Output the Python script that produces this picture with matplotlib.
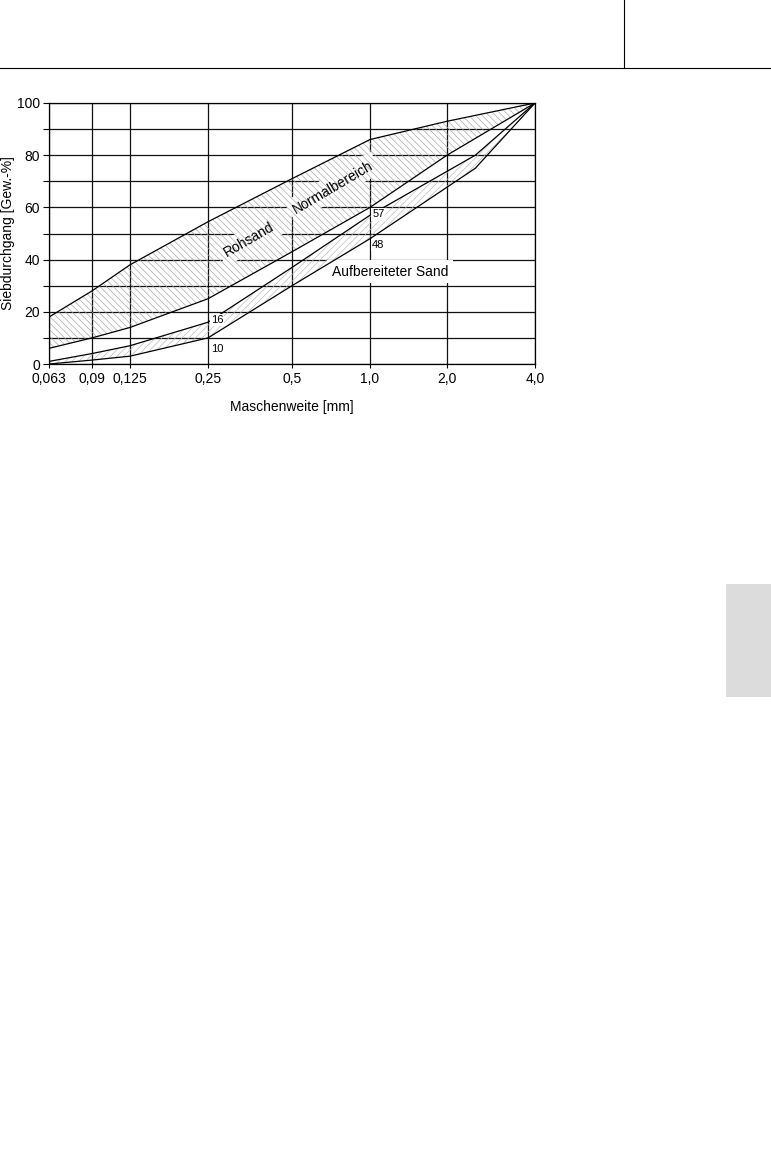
import matplotlib
matplotlib.use('Agg')
import numpy as np
import matplotlib.pyplot as plt
from matplotlib.lines import Line2D
from matplotlib.patches import Rectangle
from matplotlib.ticker import NullLocator

plt.rcParams['font.family'] = ['Liberation Sans', 'DejaVu Sans']
plt.rcParams['hatch.linewidth'] = 0.45

# Siebweiten [mm]
sieve = [0.063, 0.09, 0.125, 0.25, 0.5, 1.0, 2.0, 4.0]
sieve_labels = ['0,063', '0,09', '0,125', '0,25', '0,5', '1,0', '2,0', '4,0']

# Rohsand / Normalbereich (Grenzlinien)
roh_oben = [18, 28, 38, 54.5, 71, 86, 93, 100]
roh_unten = [6, 10, 14, 25, 43, 60, 80, 100]

# Aufbereiteter Sand (Grenzlinien)
auf_sieve = [0.063, 0.09, 0.125, 0.25, 0.5, 1.0, 2.5, 4.0]
auf_oben = [1, 4, 7, 16, 37, 57, 80, 100]
auf_unten = [0, 1.5, 3, 10, 30, 48, 75, 100]

# Abstand der Siebe auf der Achse wie im Original (nicht ganz logarithmisch)
achse_pos = [0, 43, 81, 159, 243, 321, 398, 486]
log_sieve = np.log(sieve)


def vorwaerts(x):
    x = np.clip(np.asarray(x, dtype=float), 1e-6, None)
    return np.interp(np.log(x), log_sieve, achse_pos)


def rueckwaerts(p):
    return np.exp(np.interp(p, achse_pos, log_sieve))


W, H = 771, 1151
fig = plt.figure(figsize=(W / 100, H / 100), dpi=100)

# Seitenkopf und Registermarke
fig.add_artist(Line2D([0, 1], [1 - 68 / H] * 2, transform=fig.transFigure, color='k', lw=0.8))
fig.add_artist(Line2D([624 / W] * 2, [1 - 68 / H, 1], transform=fig.transFigure, color='k', lw=0.8))
fig.add_artist(Rectangle((726 / W, 1 - 697 / H), 45 / W, 113 / H, transform=fig.transFigure,
                         facecolor='#dcdcdc', edgecolor='none'))

ax = fig.add_axes([49 / W, 1 - 364 / H, (535 - 49) / W, (364 - 103) / H])
ax.set_xscale('function', functions=(vorwaerts, rueckwaerts))
ax.set_xlim(0.063, 4.0)
ax.set_ylim(0, 100)

ax.set_xticks(sieve)
ax.set_xticklabels(sieve_labels)
ax.xaxis.set_minor_locator(NullLocator())
ax.set_yticks(range(0, 101, 10))
ax.set_yticklabels([str(v) if v % 20 == 0 else '' for v in range(0, 101, 10)])
ax.yaxis.set_minor_locator(NullLocator())
ax.tick_params(axis='x', direction='out', length=3, width=0.8, pad=3, labelsize=10)
ax.tick_params(axis='y', direction='out', length=4.5, width=0.8, pad=2, labelsize=10)

ax.set_axisbelow(True)
ax.grid(True, color='#111111', lw=0.9)
for s in ax.spines.values():
    s.set_linewidth(0.9)

ax.set_xlabel('Maschenweite [mm]', fontsize=10, labelpad=10)
ax.set_ylabel('Siebdurchgang [Gew.-%]', fontsize=10)
ax.yaxis.set_label_coords(-41 / 486, 0.5)
ax.yaxis.label.set_va('center')

# Schraffierte Bereiche
ax.fill_between(sieve, roh_unten, roh_oben, facecolor='none', edgecolor='#a2a2a2',
                hatch='\\\\\\\\\\', lw=0, zorder=1.5)
ax.fill_between(auf_sieve, auf_unten, auf_oben, facecolor='none', edgecolor='#b8b8b8',
                hatch='/////', lw=0, zorder=1.5)

for yv in (roh_oben, roh_unten):
    ax.plot(sieve, yv, color='k', lw=0.9, zorder=2)
for yv in (auf_oben, auf_unten):
    ax.plot(auf_sieve, yv, color='k', lw=0.9, zorder=2)


def label(x, y, s, rot=0, size=10, ha='center', mask=True):
    box = dict(boxstyle='square,pad=0.35', facecolor='white', edgecolor='none')
    if mask:
        # weisse Flaeche nur unter der Schraffur, damit das Gitter ausgespart wird
        ax.text(x, y, s, rotation=rot, fontsize=size, ha=ha, va='center', color='none',
                rotation_mode='anchor', bbox=box, zorder=1)
    ax.text(x, y, s, rotation=rot, fontsize=size, ha=ha, va='center', color='k',
            rotation_mode='anchor', zorder=3)


label(0.35, 47.5, 'Rohsand', rot=30)
label(0.72, 67.8, 'Normalbereich', rot=30.5)
label(1.2, 35.4, 'Aufbereiteter Sand')

small = dict(fontsize=8, ha='left', va='center', zorder=3,
             bbox=dict(boxstyle='square,pad=0.1', facecolor='white', edgecolor='none'))
ax.text(1.02, 57.3, '57', **small)
ax.text(1.02, 45.6, '48', **small)
ax.text(0.256, 16.9, '16', **small)
ax.text(0.256, 5.9, '10', **small)

fig.savefig('out.png', dpi=100)
